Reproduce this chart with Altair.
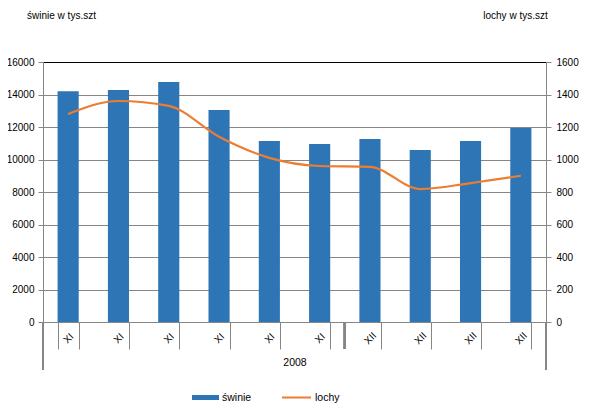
import altair as alt
import pandas as pd

labels = ["XI", "XI", "XI", "XI", "XI", "XI", "XII", "XII", "XII", "XII"]
swinie = [14200, 14270, 14770, 13050, 11140, 10950, 11260, 10590, 11140, 11940]
lochy = [1280, 1360, 1330, 1140, 1010, 960, 955, 818, 855, 900]
year_title = "2008"
left_title = "świnie w tys.szt"
right_title = "lochy w tys.szt"

df = pd.DataFrame({
    "i": list(range(len(labels))),
    "label": labels,
    "swinie": swinie,
    "lochy": lochy,
    "s1": "świnie",
    "s2": "lochy",
})

W, H = 503, 260
FONT = "Liberation Sans"
GRAY = "#868686"
BLUE = "#2E75B6"
ORANGE = "#ED7D31"

label_expr = "[" + ",".join("'%s'" % l for l in labels) + "][datum.value]"

x = alt.X(
    "i:O",
    scale=alt.Scale(paddingInner=0.58, paddingOuter=0.29),
    axis=alt.Axis(
        title=year_title,
        labelExpr=label_expr,
        labelAngle=-45,
        labelAlign="center",
        labelBaseline="middle",
        labelPadding=-11,
        tickBand="extent",
        tickSize=27,
        tickColor=GRAY,
        domainColor=GRAY,
        titleY=40,
        titleBaseline="middle",
        titleFontWeight="normal",
        titleFontSize=10.5,
        labelFontSize=10,
        labelColor="#000000",
        titleColor="#000000",
    ),
)

bars = alt.Chart(df).mark_bar().encode(
    x=x,
    y=alt.Y(
        "swinie:Q",
        scale=alt.Scale(domain=[0, 16000], nice=False),
        axis=alt.Axis(
            title=left_title,
            values=list(range(0, 16001, 2000)),
            format="d",
            titleAngle=0,
            titleX=18,
            titleY=-47,
            titleAlign="center",
            titleBaseline="middle",
            titleFontWeight="normal",
            titleFontSize=10,
            labelFontSize=10,
            tickSize=5,
            labelPadding=4,
            tickColor=GRAY,
            domainColor=GRAY,
            grid=True,
            gridColor={"condition": {"test": "datum.value === 16000", "value": "#000000"}, "value": GRAY},
            labelColor="#000000",
            titleColor="#000000",
        ),
    ),
    fill=alt.Fill(
        "s1:N",
        scale=alt.Scale(range=[BLUE]),
        legend=alt.Legend(
            title=None,
            orient="none",
            legendX=149,
            legendY=322,
            symbolType="M-1,-0.185L1,-0.185L1,0.185L-1,0.185Z",
            symbolSize=729,
            symbolStrokeWidth=0,
            labelOffset=3,
            labelFontSize=10.5,
            padding=0,
        ),
    ),
)

line = alt.Chart(df).mark_line(strokeWidth=2.2, interpolate="monotone").encode(
    x=x,
    y=alt.Y(
        "lochy:Q",
        scale=alt.Scale(domain=[0, 1600], nice=False),
        axis=alt.Axis(
            orient="right",
            title=right_title,
            values=list(range(0, 1601, 200)),
            format="d",
            titleAngle=0,
            titleX=-31,
            titleY=-47,
            titleAlign="center",
            titleBaseline="middle",
            titleFontWeight="normal",
            titleFontSize=10,
            labelFontSize=10,
            tickSize=5,
            labelPadding=5,
            tickColor=GRAY,
            domainColor=GRAY,
            grid=False,
            labelColor="#000000",
            titleColor="#000000",
        ),
    ),
    stroke=alt.Stroke(
        "s2:N",
        scale=alt.Scale(range=[ORANGE]),
        legend=alt.Legend(
            title=None,
            orient="none",
            legendX=238,
            legendY=320,
            symbolType="stroke",
            symbolSize=841,
            symbolStrokeWidth=2,
            labelOffset=3,
            labelFontSize=10.5,
            padding=0,
        ),
    ),
)

deco = alt.Chart(df).mark_rule(color=GRAY, strokeWidth=1).encode(
    x=alt.value(0), y=alt.value(H), y2=alt.value(H + 48)
)
deco2 = alt.Chart(df).mark_rule(color=GRAY, strokeWidth=1).encode(
    x=alt.value(W), y=alt.value(H), y2=alt.value(H + 48)
)
deco3 = alt.Chart(df).mark_rule(color=GRAY, strokeWidth=2).encode(
    x=alt.value(W * 6 / 10), y=alt.value(H), y2=alt.value(H + 27)
)

chart = (
    alt.layer(bars, line, deco, deco2, deco3)
    .resolve_scale(y="independent", fill="independent", stroke="independent")
    .properties(
        width=W,
        height=H,
        autosize=alt.AutoSizeParams(type="none"),
        padding={"left": 35, "top": 54, "right": 53, "bottom": 88},
        background="white",
    )
    .configure_view(stroke=None)
    .configure(font=FONT)
)

chart.save("out.html", embed_options={"renderer": "svg", "actions": False})
